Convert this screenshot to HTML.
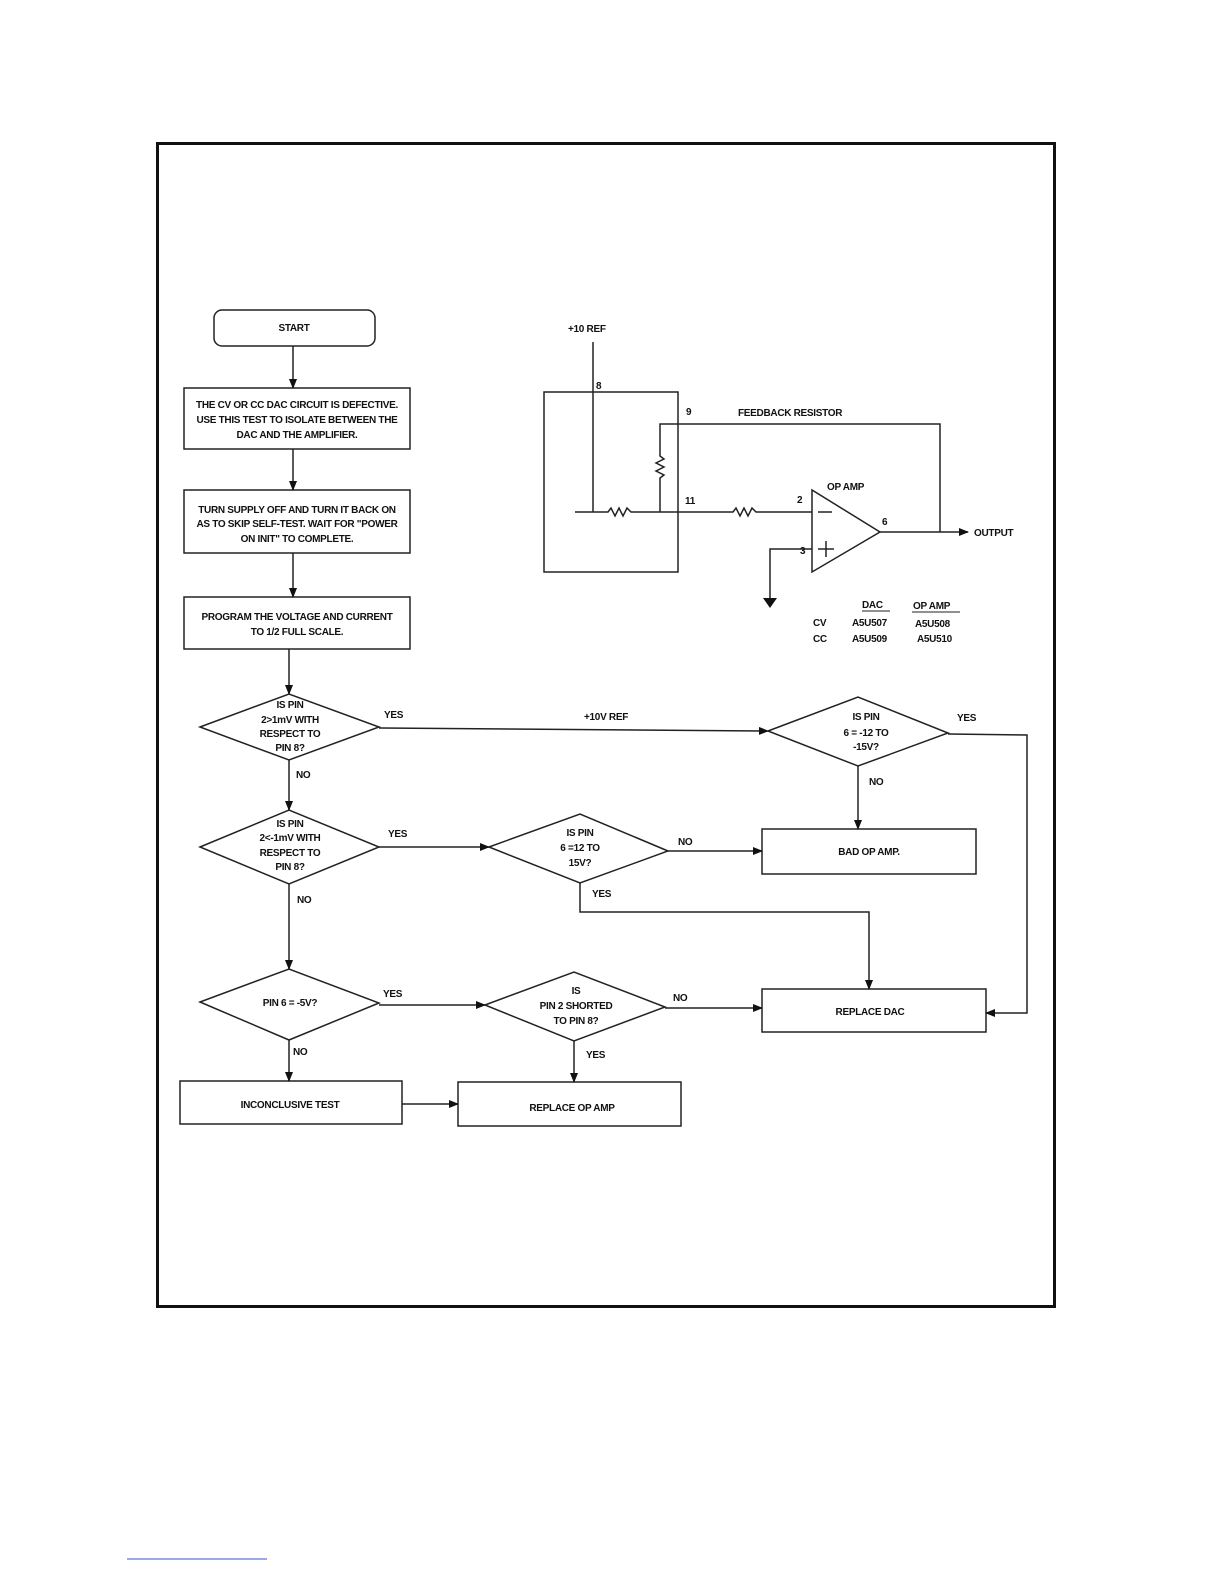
<!DOCTYPE html>
<html><head><meta charset="utf-8"><style>
html,body{margin:0;padding:0;background:#fff}
svg{display:block}
text{font-family:"Liberation Sans",sans-serif;font-size:10px;font-weight:bold;fill:#111;letter-spacing:-0.3px}
.m{text-anchor:middle}
</style></head><body>
<svg width="1224" height="1584" viewBox="0 0 1224 1584" xmlns="http://www.w3.org/2000/svg">
<defs><marker id="a" markerWidth="10" markerHeight="8" refX="9" refY="4" orient="auto" markerUnits="userSpaceOnUse"><path d="M0,0 L10,4 L0,8 z" fill="#111"/></marker></defs>
<rect x="157.5" y="143.5" width="897" height="1163" fill="none" stroke="#111" stroke-width="3"/>
<g fill="none" stroke="#222" stroke-width="1.5">
<rect x="214" y="310" width="161" height="36" rx="8"/>
<rect x="184" y="388" width="226" height="61"/>
<rect x="184" y="490" width="226" height="63"/>
<rect x="184" y="597" width="226" height="52"/>
<polygon points="200,727 289,694 379,727 289,760"/>
<polygon points="200,847 289,810 379,847 289,884"/>
<polygon points="200,1002 289,969 379,1003 289,1040"/>
<polygon points="768,731 858,697 948,733 858,766"/>
<polygon points="489,847 580,814 668,851 580,883"/>
<polygon points="485,1005 574,972 665,1007 574,1041"/>
<rect x="762" y="829" width="214" height="45"/>
<rect x="762" y="989" width="224" height="43"/>
<rect x="180" y="1081" width="222" height="43"/>
<rect x="458" y="1082" width="223" height="44"/>
</g>
<g fill="none" stroke="#222" stroke-width="1.5" marker-end="url(#a)">
<line x1="293" y1="346" x2="293" y2="388"/>
<line x1="293" y1="449" x2="293" y2="490"/>
<line x1="293" y1="553" x2="293" y2="597"/>
<line x1="289" y1="649" x2="289" y2="694"/>
<line x1="289" y1="760" x2="289" y2="810"/>
<line x1="289" y1="884" x2="289" y2="969"/>
<line x1="289" y1="1040" x2="289" y2="1081"/>
<line x1="379" y1="728" x2="768" y2="731"/>
<polyline points="948,734 1027,735 1027,1013 986,1013"/>
<line x1="858" y1="766" x2="858" y2="829"/>
<line x1="668" y1="851" x2="762" y2="851"/>
<polyline points="580,883 580,912 869,912 869,989"/>
<line x1="379" y1="847" x2="489" y2="847"/>
<line x1="379" y1="1005" x2="485" y2="1005"/>
<line x1="665" y1="1008" x2="762" y2="1008"/>
<line x1="574" y1="1041" x2="574" y2="1082"/>
<line x1="402" y1="1104" x2="458" y2="1104"/>
</g>
<text class="m" x="294" y="331">START</text>
<text class="m" x="297" y="408">THE CV OR CC DAC CIRCUIT IS DEFECTIVE.</text>
<text class="m" x="297" y="423">USE THIS TEST TO ISOLATE BETWEEN THE</text>
<text class="m" x="297" y="438">DAC AND THE AMPLIFIER.</text>
<text class="m" x="297" y="513">TURN SUPPLY OFF AND TURN IT BACK ON</text>
<text class="m" x="297" y="527">AS TO SKIP SELF-TEST. WAIT FOR "POWER</text>
<text class="m" x="297" y="542">ON INIT" TO COMPLETE.</text>
<text class="m" x="297" y="620">PROGRAM THE VOLTAGE AND CURRENT</text>
<text class="m" x="297" y="635">TO 1/2 FULL SCALE.</text>
<text class="m" x="290" y="708">IS PIN</text>
<text class="m" x="290" y="723">2&gt;1mV WITH</text>
<text class="m" x="290" y="737">RESPECT TO</text>
<text class="m" x="290" y="751">PIN 8?</text>
<text x="384" y="718">YES</text>
<text x="584" y="720">+10V REF</text>
<text x="296" y="778">NO</text>
<text class="m" x="290" y="827">IS PIN</text>
<text class="m" x="290" y="841">2&lt;-1mV WITH</text>
<text class="m" x="290" y="856">RESPECT TO</text>
<text class="m" x="290" y="870">PIN 8?</text>
<text x="388" y="837">YES</text>
<text x="297" y="903">NO</text>
<text class="m" x="290" y="1006">PIN 6 = -5V?</text>
<text x="383" y="997">YES</text>
<text x="293" y="1055">NO</text>
<text class="m" x="580" y="836">IS PIN</text>
<text class="m" x="580" y="851">6 =12 TO</text>
<text class="m" x="580" y="866">15V?</text>
<text x="678" y="845">NO</text>
<text x="592" y="897">YES</text>
<text class="m" x="866" y="720">IS PIN</text>
<text class="m" x="866" y="736">6 = -12 TO</text>
<text class="m" x="866" y="750">-15V?</text>
<text x="957" y="721">YES</text>
<text x="869" y="785">NO</text>
<text class="m" x="576" y="994">IS</text>
<text class="m" x="576" y="1009">PIN 2 SHORTED</text>
<text class="m" x="576" y="1024">TO PIN 8?</text>
<text x="673" y="1001">NO</text>
<text x="586" y="1058">YES</text>
<text class="m" x="869" y="855">BAD OP AMP.</text>
<text class="m" x="870" y="1015">REPLACE DAC</text>
<text class="m" x="290" y="1108">INCONCLUSIVE TEST</text>
<text class="m" x="572" y="1111">REPLACE OP AMP</text>
<!-- circuit -->
<g fill="none" stroke="#222" stroke-width="1.5">
<rect x="544" y="392" width="134" height="180"/>
<line x1="593" y1="342" x2="593" y2="512"/>
<polyline points="575,512 608,512 611,508 615,516 619,508 623,516 627,508 631,512 733,512 736,508 740,516 744,508 748,516 752,508 756,512 812,512"/>
<polyline points="660,512 660,478 664,475 656,471 664,467 656,463 664,459 660,456 660,424 940,424 940,532"/>
<polygon points="812,490 812,572 880,532"/>
<line x1="818" y1="512" x2="832" y2="512"/>
<line x1="818" y1="549" x2="834" y2="549"/><line x1="826" y1="541" x2="826" y2="557"/>
<polyline points="812,549 770,549 770,598"/>
</g>
<polygon points="763,598 777,598 770,608" fill="#111"/>
<line x1="880" y1="532" x2="968" y2="532" stroke="#222" stroke-width="1.5" marker-end="url(#a)"/>
<text x="568" y="332">+10 REF</text>
<text x="596" y="389">8</text>
<text x="686" y="415">9</text>
<text x="738" y="416">FEEDBACK RESISTOR</text>
<text x="685" y="504">11</text>
<text x="797" y="503">2</text>
<text x="800" y="554">3</text>
<text x="882" y="525">6</text>
<text x="827" y="490">OP AMP</text>
<text x="974" y="536">OUTPUT</text>
<text x="862" y="608">DAC</text>
<text x="913" y="609">OP AMP</text>
<line x1="862" y1="611" x2="890" y2="611" stroke="#222"/>
<line x1="912" y1="612" x2="960" y2="612" stroke="#222"/>
<text x="813" y="626">CV</text>
<text x="852" y="626">A5U507</text>
<text x="915" y="627">A5U508</text>
<text x="813" y="642">CC</text>
<text x="852" y="642">A5U509</text>
<text x="917" y="642">A5U510</text>
<line x1="127" y1="1559" x2="267" y2="1559" stroke="#35c" stroke-width="1"/>
</svg>
</body></html>
